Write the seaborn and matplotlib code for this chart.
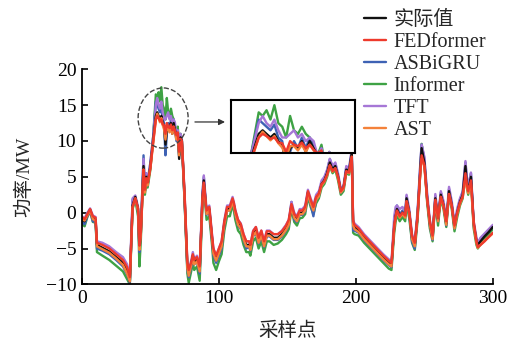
import numpy as np
import pandas as pd
import matplotlib
matplotlib.use("Agg")
import matplotlib.pyplot as plt
import seaborn as sns
from matplotlib.patches import Ellipse

# ==========================================
# DATA
# ==========================================
x_idx = [
    0, 2, 4, 6, 8, 10, 11, 15, 20, 25,
    30, 33, 35, 37, 39, 41, 42, 43, 45, 46,
    47, 48, 50, 52, 54, 55, 56, 57, 58, 59,
    60, 61, 62, 63, 64, 65, 66, 67, 68, 69,
    70, 71, 72, 73, 75, 77, 78, 80, 81, 82,
    84, 86, 88, 89, 91, 93, 95, 96, 98, 100,
    102, 104, 106, 108, 110, 111, 112, 114, 116, 118,
    120, 122, 123, 125, 127, 129, 131, 133, 135, 137,
    140, 143, 146, 149, 151, 153, 155, 157, 159, 161,
    163, 165, 167, 169, 171, 173, 175, 177, 179, 181,
    183, 185, 187, 189, 191, 193, 195, 197, 198, 199,
    202, 206, 210, 215, 220, 224, 226, 228, 229, 230,
    232, 234, 236, 237, 239, 241, 243, 245, 247, 248,
    250, 252, 254, 256, 258, 260, 262, 264, 266, 268,
    270, 272, 274, 276, 278, 280, 281, 282, 284, 286,
    288, 289, 291, 294, 297, 300,
]

actual = [
    -1.0, -1.2, -0.3, 0.4, -0.8, -1.0, -4.5, -4.9, -5.4, -6.2,
    -7.0, -8.2, -9.6, 1.0, 2.2, 0.5, -5.0, -3.0, 6.5, 3.0,
    5.0, 4.0, 6.5, 10.0, 13.5, 14.0, 13.5, 13.0, 13.5, 12.5,
    12.0, 9.5, 11.5, 12.0, 11.5, 12.5, 11.0, 12.5, 11.5, 10.5,
    11.0, 7.5, 10.5, 10.0, 2.0, -7.5, -8.5, -7.0, -6.0, -7.0,
    -6.5, -8.0, 2.0, 4.5, 0.0, 0.5, -3.5, -5.5, -6.5, -5.5,
    -4.5, -1.5, 0.5, 0.5, 1.8, 1.0, 0.0, -1.5, -2.0, -3.5,
    -4.5, -4.5, -5.0, -3.0, -2.5, -4.0, -3.0, -4.5, -3.0, -3.0,
    -3.5, -3.5, -3.0, -2.2, -1.5, 1.0, -0.5, -1.0, 0.0, 0.0,
    0.5, 2.8, 1.5, 0.5, 2.0, 2.5, 4.0, 4.5, 5.5, 7.0,
    6.0, 6.5, 5.0, 3.0, 3.5, 6.0, 5.8, 8.3, -1.5, -2.0,
    -2.5, -3.5, -4.3, -5.3, -6.3, -7.0, -7.3, -2.0, -0.5, 0.5,
    -0.5, 0.0, -0.5, 2.0, 0.0, -3.5, -4.5, -0.5, 6.0, 9.0,
    7.0, 2.0, -1.5, -3.5, 2.0, -1.0, 2.5, 1.0, -1.5, 3.0,
    1.0, -2.0, 0.0, 1.5, 2.5, 6.5, 4.0, 3.0, 5.0, -1.5,
    -4.0, -4.5, -4.0, -3.3, -2.7, -2.0,
]

fedformer = [
    -0.6, -0.9, -0.2, 0.5, -0.5, -0.7, -4.2, -4.5, -5.0, -5.8,
    -6.6, -7.6, -9.0, 0.8, 2.0, 0.6, -4.6, -2.8, 6.0, 3.2,
    4.8, 4.2, 6.2, 9.8, 13.0, 13.5, 13.2, 12.8, 13.0, 12.3,
    12.2, 11.0, 12.5, 12.0, 11.8, 12.3, 11.5, 12.0, 11.3, 10.8,
    11.2, 8.5, 10.3, 10.0, 2.5, -7.0, -8.0, -6.8, -5.8, -6.6,
    -6.2, -7.5, 1.8, 4.2, 0.3, 0.8, -3.2, -5.0, -6.0, -5.0,
    -4.0, -1.2, 0.8, 0.8, 2.0, 1.3, 0.3, -1.0, -1.6, -3.0,
    -4.0, -4.0, -4.5, -2.6, -2.0, -3.5, -2.5, -4.0, -2.6, -2.6,
    -3.0, -3.0, -2.6, -1.8, -1.0, 1.2, -0.2, -0.6, 0.3, 0.3,
    0.8, 3.0, 1.8, 0.8, 2.2, 2.7, 4.0, 4.4, 5.3, 6.6,
    5.8, 6.2, 5.0, 3.0, 3.5, 5.8, 5.6, 7.8, -1.2, -1.7,
    -2.2, -3.2, -4.0, -5.0, -6.0, -6.7, -7.0, -1.8, -0.6, 0.3,
    -0.5, 0.0, -0.4, 1.6, 0.0, -3.2, -4.2, -0.6, 5.5, 8.0,
    6.6, 2.0, -1.2, -3.2, 1.8, -0.8, 2.2, 1.0, -1.2, 2.6,
    1.0, -1.8, 0.0, 1.4, 2.2, 5.5, 4.0, 3.0, 4.5, -1.2,
    -4.0, -4.8, -4.5, -4.0, -3.4, -2.8,
]

asbigru = [
    -1.3, -1.6, -0.5, 0.2, -1.2, -1.3, -5.0, -5.3, -5.8, -6.6,
    -7.5, -8.6, -9.8, 1.8, 2.0, 0.2, -5.5, -2.5, 8.0, 3.5,
    5.5, 3.8, 7.0, 10.5, 15.5, 15.0, 14.5, 14.0, 14.8, 13.0,
    12.5, 8.0, 11.0, 12.5, 11.5, 13.0, 11.5, 13.0, 11.5, 10.0,
    11.5, 8.0, 10.0, 9.5, 1.5, -8.0, -9.0, -7.5, -6.2, -7.2,
    -6.8, -8.5, 2.5, 5.0, -0.3, 0.3, -3.8, -6.0, -7.0, -6.0,
    -5.0, -1.8, 0.3, 0.3, 1.6, 0.8, -0.3, -1.8, -2.3, -3.8,
    -5.0, -4.8, -5.3, -3.3, -2.8, -4.3, -3.3, -4.8, -3.3, -3.3,
    -3.8, -3.8, -3.3, -2.5, -1.8, 1.5, -1.0, -1.3, -0.3, -0.3,
    0.2, 2.5, 1.2, -0.5, 1.8, 2.3, 4.2, 4.8, 5.8, 7.5,
    6.3, 6.8, 5.2, 2.8, 3.3, 6.3, 6.0, 8.5, -2.5, -2.5,
    -2.8, -3.8, -4.6, -5.6, -6.6, -7.3, -7.6, -1.5, 0.0, 1.0,
    -0.3, 0.3, -0.3, 2.3, -0.3, -4.0, -5.0, -0.3, 6.5, 9.5,
    7.5, 2.3, -1.8, -3.8, 2.3, -1.2, 2.8, 1.2, -1.8, 3.3,
    1.2, -2.2, 0.2, 1.8, 2.8, 7.0, 4.5, 3.3, 5.5, -1.8,
    -3.8, -4.6, -3.6, -3.0, -2.4, -1.8,
]

informer = [
    -1.6, -1.9, -0.6, 0.2, -1.3, -1.4, -5.5, -6.0, -6.6, -7.4,
    -8.2, -9.3, -10.0, 0.5, 1.8, -0.5, -7.5, -4.0, 7.0, 2.5,
    4.5, 3.5, 6.0, 10.5, 16.5, 16.0, 16.8, 15.5, 17.5, 15.0,
    14.5, 13.0, 16.0, 14.0, 13.5, 14.5, 13.5, 13.0, 12.0, 10.5,
    12.0, 9.0, 11.0, 10.0, 1.5, -8.5, -9.8, -8.0, -7.0, -8.0,
    -7.5, -9.5, 1.0, 4.0, -1.0, -0.5, -4.5, -7.0, -8.0, -6.8,
    -5.8, -2.5, -0.5, -0.5, 1.2, 0.2, -1.0, -2.5, -3.0, -4.5,
    -5.5, -5.5, -6.0, -4.0, -3.5, -5.0, -4.0, -5.5, -4.0, -4.0,
    -4.5, -4.3, -3.8, -3.0, -2.3, 0.5, -1.3, -1.8, -0.8, -0.7,
    -0.2, 2.2, 0.8, -0.2, 1.3, 2.0, 3.5, 4.0, 5.0, 6.5,
    5.5, 6.0, 4.5, 2.5, 3.0, 5.5, 5.3, 7.8, -2.8, -3.0,
    -3.2, -4.2, -5.0, -6.0, -7.0, -7.8, -8.0, -2.8, -1.3, -0.3,
    -1.2, -0.6, -1.2, 1.2, -0.8, -4.2, -5.2, -1.2, 5.5, 9.6,
    7.0, 1.5, -2.2, -4.0, 1.5, -1.8, 2.0, 0.5, -2.0, 2.5,
    0.5, -2.6, -0.6, 1.0, 2.0, 6.0, 3.5, 2.5, 4.5, -2.2,
    -4.5, -5.0, -4.4, -3.6, -3.0, -2.3,
]

tft = [
    -0.5, -0.8, 0.0, 0.6, -0.4, -0.6, -4.0, -4.2, -4.7, -5.5,
    -6.2, -7.2, -8.8, 2.0, 2.4, 0.8, -4.5, -2.5, 7.5, 3.5,
    5.5, 4.5, 7.0, 10.5, 15.0, 16.0, 15.0, 14.5, 15.5, 14.0,
    13.0, 13.0, 13.5, 14.0, 13.0, 13.5, 12.5, 13.0, 12.5, 10.5,
    11.5, 9.5, 11.0, 10.2, 2.5, -7.0, -8.0, -6.5, -5.5, -6.5,
    -6.0, -7.5, 2.8, 5.2, 0.5, 1.0, -3.0, -5.0, -6.0, -5.0,
    -4.0, -1.0, 1.0, 1.0, 2.2, 1.4, 0.4, -1.0, -1.5, -3.0,
    -4.0, -4.0, -4.5, -2.5, -2.0, -3.5, -2.5, -4.0, -2.5, -2.5,
    -3.0, -3.0, -2.5, -1.7, -1.0, 1.5, 0.0, -0.5, 0.5, 0.5,
    1.0, 3.2, 2.0, 1.0, 2.5, 3.0, 4.5, 5.0, 6.0, 7.5,
    6.5, 7.0, 5.5, 3.3, 3.8, 6.5, 6.2, 8.8, -1.0, -1.5,
    -2.0, -3.0, -3.8, -4.8, -5.8, -6.5, -6.8, -0.5, 0.8, 1.0,
    0.5, 0.8, 0.2, 2.5, 0.5, -3.0, -4.0, 0.2, 6.8, 9.5,
    7.8, 2.8, -1.0, -3.0, 2.6, -0.6, 3.0, 1.6, -1.0, 3.6,
    1.6, -1.5, 0.6, 2.0, 3.0, 7.2, 5.0, 3.6, 5.6, -1.2,
    -3.4, -4.2, -3.5, -2.9, -2.3, -1.7,
]

ast = [
    -0.9, -1.1, -0.4, 0.3, -0.9, -1.1, -4.7, -5.1, -5.6, -6.4,
    -7.3, -8.5, -9.6, 0.7, 2.0, 0.2, -5.2, -3.2, 6.0, 2.8,
    4.6, 3.8, 6.2, 9.6, 13.0, 13.8, 13.2, 12.6, 13.2, 12.2,
    11.6, 10.2, 11.8, 11.8, 11.2, 12.0, 11.0, 12.0, 11.2, 10.2,
    10.8, 8.0, 10.2, 9.8, 1.8, -7.8, -8.8, -7.2, -6.2, -7.2,
    -6.8, -8.2, 1.6, 4.0, -0.2, 0.3, -3.7, -5.7, -6.7, -5.7,
    -4.7, -1.7, 0.3, 0.3, 1.5, 0.8, -0.2, -1.7, -2.2, -3.7,
    -4.7, -4.7, -5.2, -3.2, -2.7, -4.2, -3.2, -4.7, -3.2, -3.2,
    -3.7, -3.7, -3.2, -2.4, -1.7, 0.8, -0.7, -1.2, -0.2, -0.2,
    0.3, 2.6, 1.3, 0.3, 1.8, 2.3, 3.8, 4.3, 5.2, 6.6,
    5.7, 6.2, 4.8, 2.8, 3.3, 5.7, 5.5, 7.8, -1.8, -2.3,
    -2.7, -3.7, -4.5, -5.5, -6.5, -7.2, -7.5, -2.2, -0.8, 0.2,
    -0.7, -0.2, -0.7, 1.6, -0.2, -3.7, -4.7, -0.7, 5.5, 7.5,
    6.5, 1.8, -1.7, -3.7, 1.7, -1.2, 2.2, 0.8, -1.7, 2.6,
    0.8, -2.2, -0.2, 1.2, 2.2, 4.8, 3.6, 2.7, 4.0, -1.8,
    -4.2, -4.9, -4.5, -3.9, -3.4, -2.9,
]

series_names = ["实际值", "FEDformer", "ASBiGRU", "Informer", "TFT", "AST"]
series_colors = ["#111111", "#ee3a2c", "#3e62b4", "#3ea244", "#a677d6", "#f4823a"]
# drawing order (back to front); legend keeps series_names order
draw_order = ["Informer", "ASBiGRU", "TFT", "实际值", "AST", "FEDformer"]

df = pd.DataFrame({
    "采样点": x_idx,
    "实际值": actual,
    "FEDformer": fedformer,
    "ASBiGRU": asbigru,
    "Informer": informer,
    "TFT": tft,
    "AST": ast,
})
long_df = df.melt(id_vars="采样点", var_name="模型", value_name="功率")

# ==========================================
# PLOT
# ==========================================
sns.set_style("ticks")
plt.rcParams["font.family"] = ["Liberation Serif", "Noto Sans CJK SC"]
plt.rcParams["axes.unicode_minus"] = True

fig = plt.figure(figsize=(5.15, 3.43), dpi=100)
ax = fig.add_axes([0.159, 0.171, 0.798, 0.627])
palette = dict(zip(series_names, series_colors))


def draw_lines(target, lw):
    handles = {}
    for name in draw_order:
        sub = long_df[long_df["模型"] == name]
        sns.lineplot(data=sub, x="采样点", y="功率", color=palette[name],
                     linewidth=lw, ax=target, label=name, legend=False)
        handles[name] = target.lines[-1]
    return handles


handles = draw_lines(ax, 1.7)

ax.set_xlim(0, 300)
ax.set_ylim(-10, 20)
ax.set_xticks([0, 100, 200, 300])
ax.set_yticks([-10, -5, 0, 5, 10, 15, 20])
ax.tick_params(direction="in", length=4, width=1.2, labelsize=14,
               colors="black", pad=4)
for side in ["top", "right"]:
    ax.spines[side].set_visible(False)
for side in ["left", "bottom"]:
    ax.spines[side].set_linewidth(1.3)
    ax.spines[side].set_color("black")
ax.set_xlabel("采样点", fontsize=14, labelpad=11)
ax.set_ylabel("功率/MW", fontsize=14, labelpad=9)

# dashed ellipse around the peak and arrow to the zoomed view
ax.add_patch(Ellipse((59.3, 13.2), 36.5, 8.4, fill=False, linestyle="--",
                     edgecolor="#444444", linewidth=1.0, zorder=10))
ax.annotate("", xy=(106.5, 12.65), xytext=(80.5, 12.65),
            arrowprops=dict(arrowstyle="-|>", color="#333333", lw=0.9,
                            mutation_scale=9))

# zoomed inset
axins = fig.add_axes([0.449, 0.553, 0.240, 0.155])
draw_lines(axins, 1.7)
axins.set_xlim(47, 78.5)
axins.set_ylim(10.8, 18.2)
axins.set_xticks([])
axins.set_yticks([])
axins.set_xlabel("")
axins.set_ylabel("")
for sp in axins.spines.values():
    sp.set_visible(True)
    sp.set_linewidth(1.5)
    sp.set_color("black")

fig.legend([handles[n] for n in series_names], series_names,
           loc="upper left", bbox_to_anchor=(0.684, 1.002), frameon=False,
           fontsize=14.5, handlelength=1.1, handletextpad=0.35,
           labelspacing=0.14, borderaxespad=0.2)

fig.savefig("out.png", dpi=100)
